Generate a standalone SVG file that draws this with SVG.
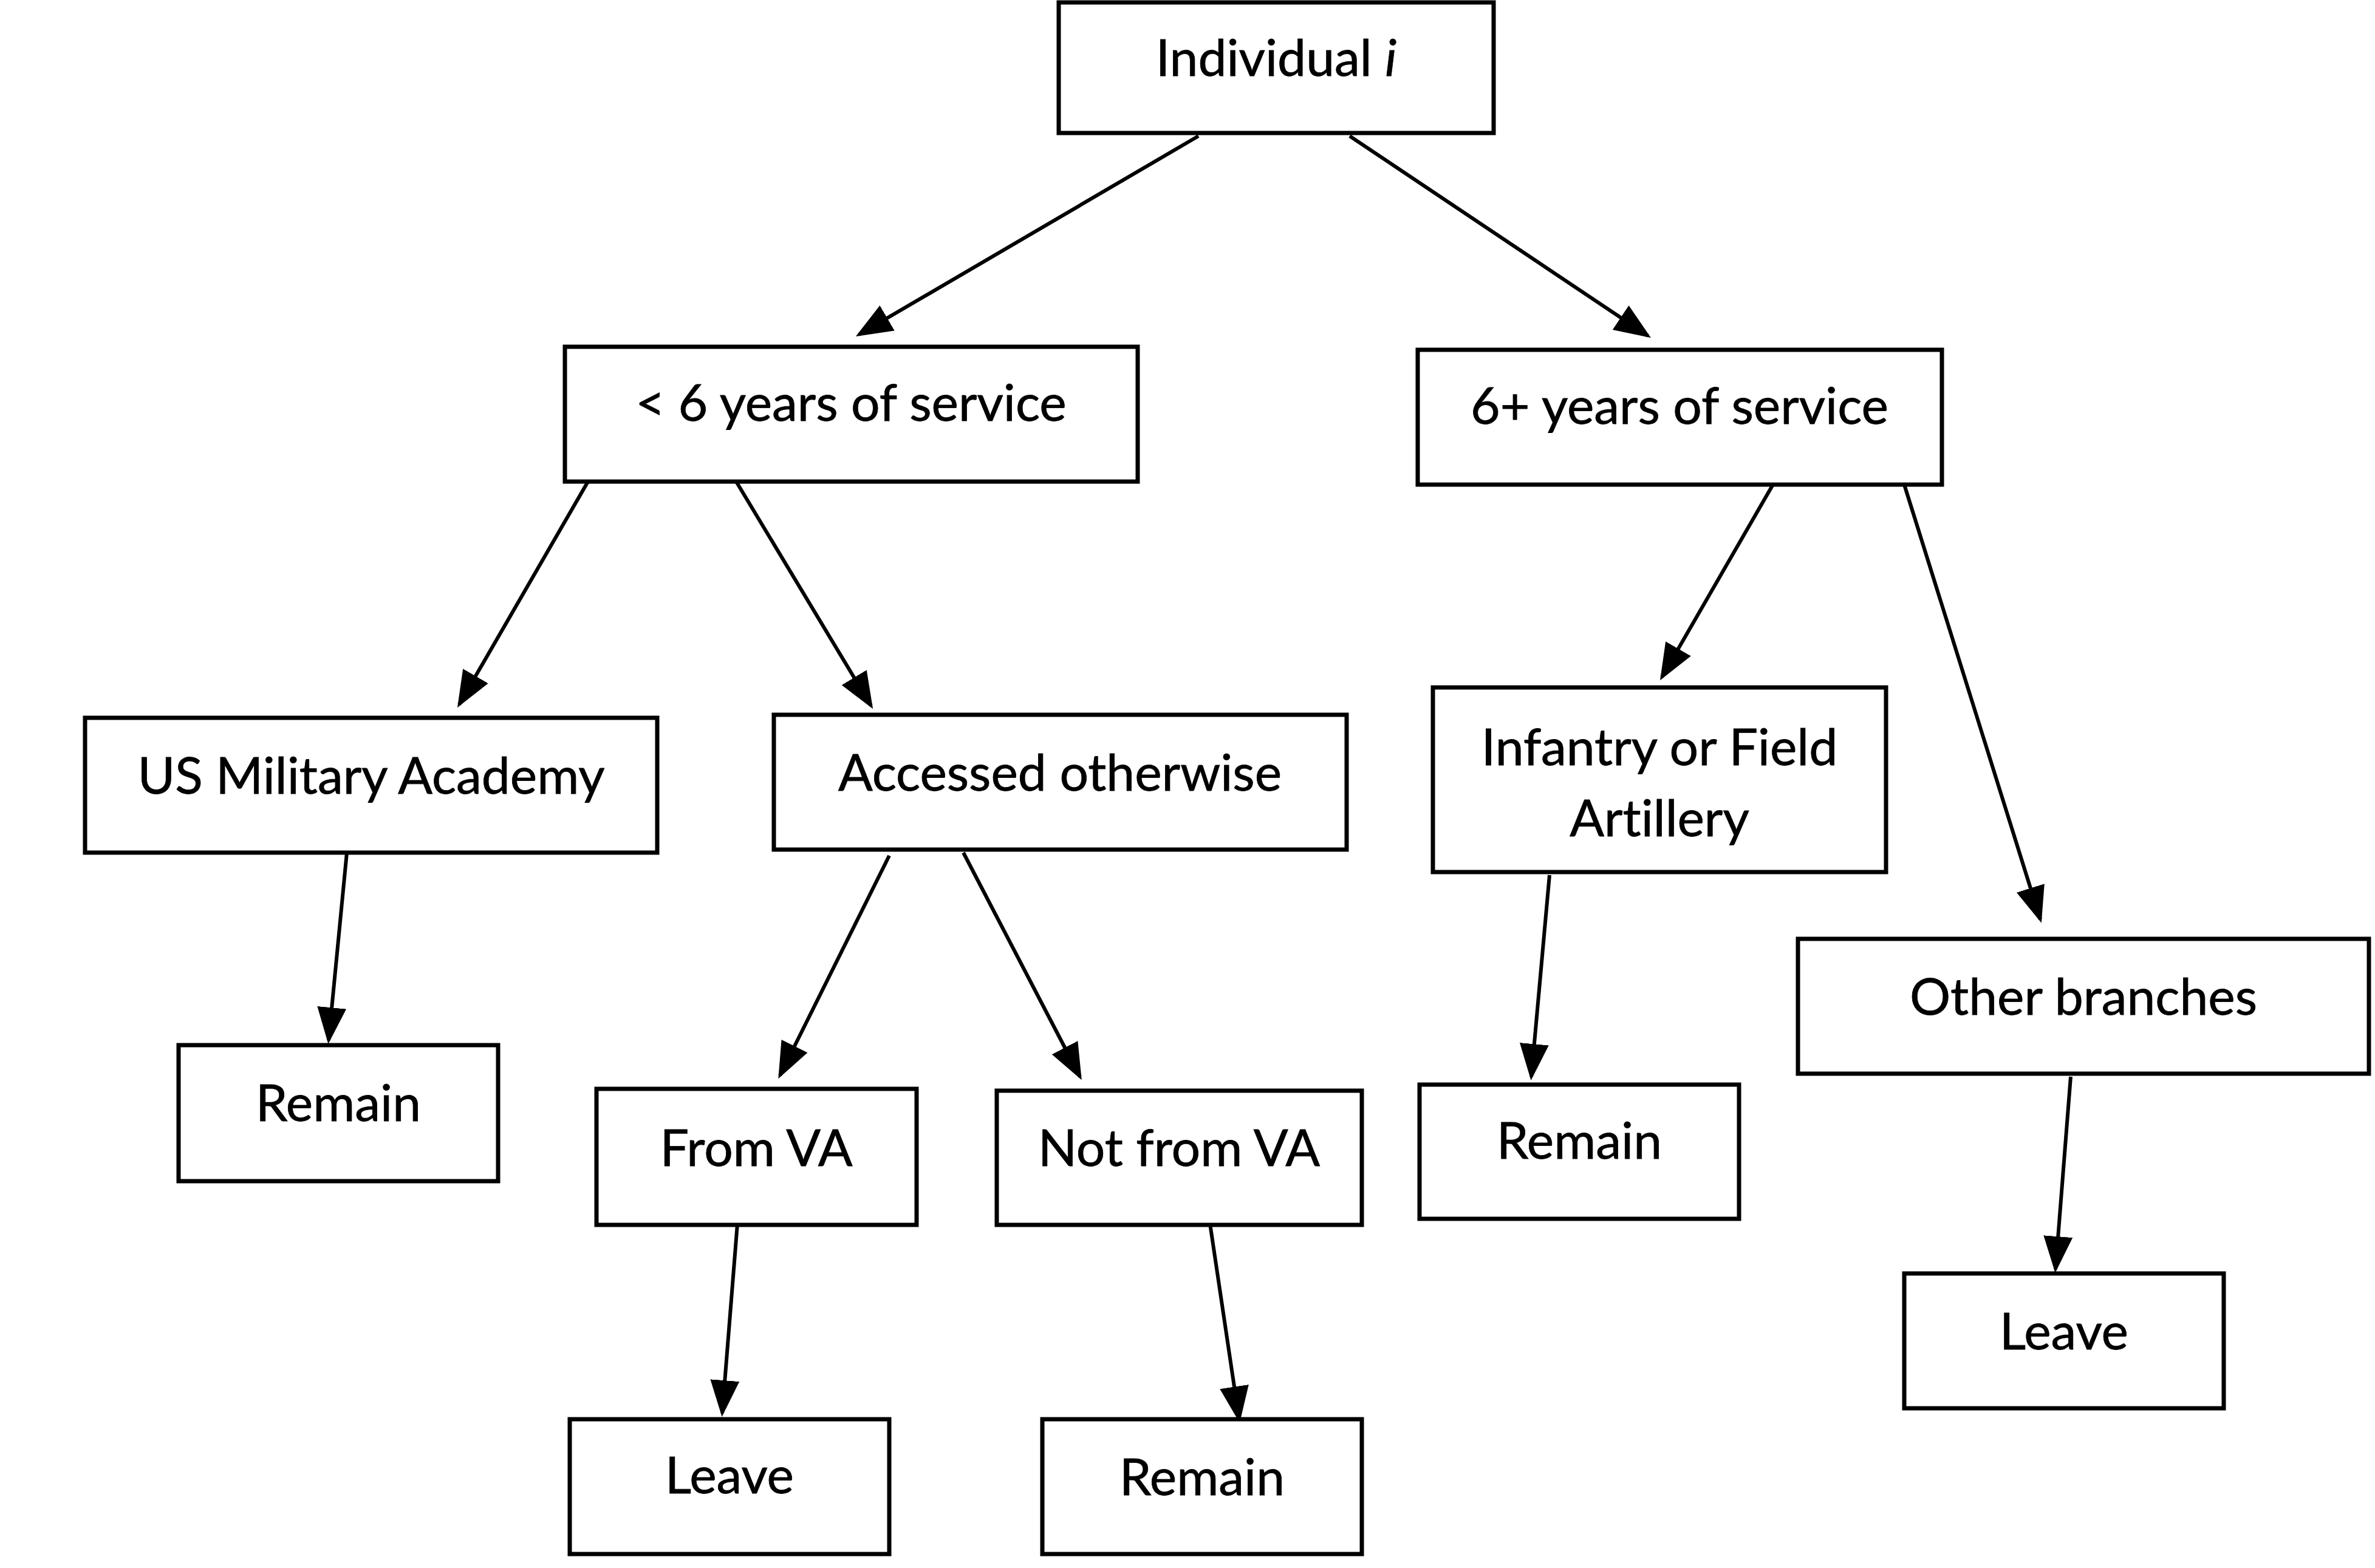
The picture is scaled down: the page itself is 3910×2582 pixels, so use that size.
<svg xmlns="http://www.w3.org/2000/svg" width="3910" height="2582" viewBox="0 0 3910 2582">
<style>
.box{fill:#fff;stroke:#000;stroke-width:7}
.lbl{font-family:Lato,"Liberation Sans",sans-serif;font-size:84px;fill:#000;text-anchor:middle;font-variant-ligatures:none;stroke:#000;stroke-width:0.8}
.edge{stroke:#000;stroke-width:6;fill:none;marker-end:url(#ah)}
</style>
<defs>
<marker id="ah" markerUnits="userSpaceOnUse" markerWidth="64" markerHeight="50" refX="54" refY="24" orient="auto">
<path d="M0,0 L60,24 L0,48 z" fill="#000"/>
</marker>
</defs>
<rect width="3910" height="2582" fill="#fff"/>
<g id="connectors">
<line class="edge" x1="1973" y1="224" x2="1414" y2="551"/>
<line class="edge" x1="2222" y1="224" x2="2713" y2="553"/>
<line class="edge" x1="968" y1="793" x2="756" y2="1160"/>
<line class="edge" x1="1212" y1="793" x2="1434" y2="1162"/>
<line class="edge" x1="2920" y1="796" x2="2736" y2="1115"/>
<line class="edge" x1="3135" y1="798" x2="3359" y2="1514"/>
<line class="edge" x1="571" y1="1404" x2="541" y2="1713"/>
<line class="edge" x1="1464" y1="1409" x2="1284" y2="1771"/>
<line class="edge" x1="1586" y1="1404" x2="1778" y2="1773"/>
<line class="edge" x1="2551" y1="1441" x2="2521" y2="1773"/>
<line class="edge" x1="3409" y1="1773" x2="3384" y2="2090"/>
<line class="edge" x1="1214" y1="2015" x2="1189" y2="2327"/>
<line class="edge" x1="1992" y1="2015" x2="2040" y2="2337"/>
</g>
<g id="n-individual"><rect class="box" x="1743" y="4" width="716" height="215"/><text class="lbl" x="2101" y="125">Individual <tspan font-style="italic">i</tspan></text></g>
<g id="n-lt6"><rect class="box" x="930" y="571" width="943" height="222"/><text class="lbl" x="1401" y="693">&lt; 6 years of service</text></g>
<g id="n-6plus"><rect class="box" x="2334" y="576" width="863" height="222"/><text class="lbl" x="2765" y="698">6+ years of service</text></g>
<g id="n-usma"><rect class="box" x="140" y="1182" width="942" height="222"/><text class="lbl" x="611" y="1307">US Military Academy</text></g>
<g id="n-accessed"><rect class="box" x="1274" y="1177" width="943" height="222"/><text class="lbl" x="1745" y="1302">Accessed otherwise</text></g>
<g id="n-infantry"><rect class="box" x="2359" y="1132" width="746" height="304"/><text class="lbl" x="2732" y="1260">Infantry or Field</text><text class="lbl" x="2732" y="1377">Artillery</text></g>
<g id="n-other"><rect class="box" x="2960" y="1546" width="940" height="222"/><text class="lbl" x="3430" y="1671">Other branches</text></g>
<g id="n-remain1"><rect class="box" x="294" y="1721" width="526" height="224"/><text class="lbl" x="557" y="1846">Remain</text></g>
<g id="n-fromva"><rect class="box" x="982" y="1793" width="527" height="224"/><text class="lbl" x="1245" y="1920">From VA</text></g>
<g id="n-notfromva"><rect class="box" x="1641" y="1796" width="601" height="221"/><text class="lbl" x="1941" y="1920">Not from VA</text></g>
<g id="n-remain2"><rect class="box" x="2337" y="1786" width="526" height="221"/><text class="lbl" x="2600" y="1908">Remain</text></g>
<g id="n-leave1"><rect class="box" x="938" y="2337" width="526" height="222"/><text class="lbl" x="1201" y="2459">Leave</text></g>
<g id="n-remain3"><rect class="box" x="1716" y="2337" width="526" height="222"/><text class="lbl" x="1979" y="2462">Remain</text></g>
<g id="n-leave2"><rect class="box" x="3135" y="2097" width="526" height="222"/><text class="lbl" x="3398" y="2222">Leave</text></g>
</svg>
